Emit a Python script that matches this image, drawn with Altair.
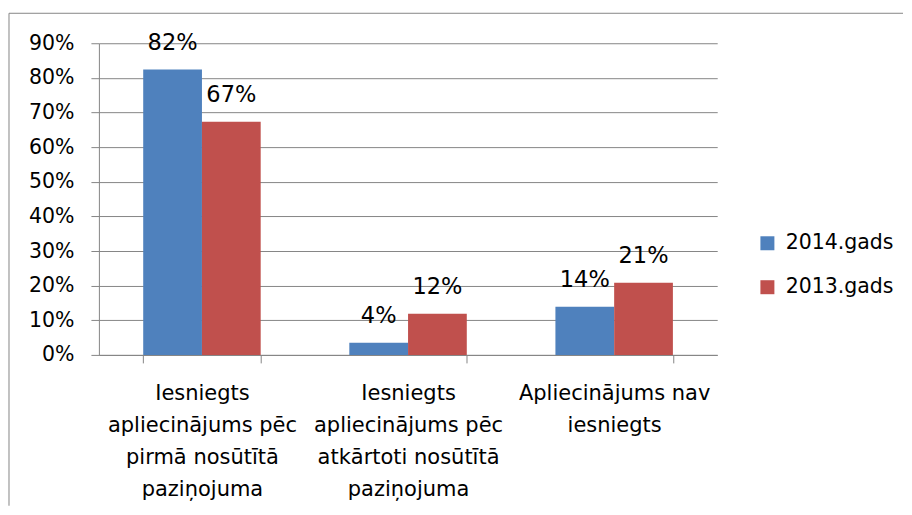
import json
import altair as alt
import pandas as pd

# ---- data ----
categories = [
    "Iesniegts apliecinājums pēc pirmā nosūtītā paziņojuma",
    "Iesniegts apliecinājums pēc atkārtoti nosūtītā paziņojuma",
    "Apliecinājums nav iesniegts",
]
category_lines = [
    ["Iesniegts", "apliecinājums pēc", "pirmā nosūtītā", "paziņojuma"],
    ["Iesniegts", "apliecinājums pēc", "atkārtoti nosūtītā", "paziņojuma"],
    ["Apliecinājums nav", "iesniegts"],
]
series = ["2014.gads", "2013.gads"]
values_2014 = [0.824, 0.035, 0.139]
values_2013 = [0.673, 0.119, 0.208]
y_ticks = [0, 0.1, 0.2, 0.3, 0.4, 0.5, 0.6, 0.7, 0.8, 0.9]
colors = ["#4F81BD", "#C0504D"]

rows = []
for s, vals in zip(series, [values_2014, values_2013]):
    for c, v in zip(categories, vals):
        rows.append({"category": c, "series": s, "value": v})
df = pd.DataFrame(rows)

label_map = json.dumps({c: l for c, l in zip(categories, category_lines)}, ensure_ascii=False)

FONT = "DejaVu Sans"
GRID = "#868686"

base = alt.Chart(df).encode(
    x=alt.X(
        "category:N",
        sort=categories,
        title=None,
        scale=alt.Scale(paddingInner=0.43, paddingOuter=0.215),
        axis=alt.Axis(
            labelAngle=0,
            labelExpr=f"{label_map}[datum.label]",
            labelLineHeight=32,
            labelFontSize=21,
            labelFont=FONT,
            labelColor="black",
            labelPadding=20,
            labelLimit=300,
            tickBand="extent",
            tickSize=8,
            tickColor=GRID,
            domainColor=GRID,
            grid=False,
        ),
    ),
    xOffset=alt.XOffset("series:N", sort=series, scale=alt.Scale(paddingInner=0, paddingOuter=0)),
    y=alt.Y(
        "value:Q",
        title=None,
        scale=alt.Scale(domain=[0, 0.9], nice=False),
        axis=alt.Axis(
            values=y_ticks,
            format=".0%",
            labelFontSize=20.5,
            labelFont=FONT,
            labelColor="black",
            labelPadding=17,
            tickSize=8,
            tickColor=GRID,
            domainColor=GRID,
            gridColor=GRID,
            grid=True,
        ),
    ),
)

bars = base.mark_bar().encode(
    color=alt.Color(
        "series:N",
        sort=series,
        scale=alt.Scale(domain=series, range=colors),
        legend=alt.Legend(
            title=None,
            orient="none",
            legendX=659,
            legendY=190,
            symbolType="square",
            symbolSize=196,
            symbolStrokeWidth=0,
            labelFontSize=20.5,
            labelFont=FONT,
            labelColor="black",
            labelOffset=8,
            rowPadding=23,
            padding=0,
            labelExpr="datum.label == '2014.gads' ? '\u00a0' + datum.label : datum.label",
        ),
    )
)

labels = base.mark_text(baseline="middle", dy=-27, fontSize=22.5, font=FONT, color="black").encode(
    text=alt.Text("value:Q", format=".0%")
)

frame_data = alt.Data(values=[{"f": 1}])
frame_left = alt.Chart(frame_data).mark_rule(color=GRID, strokeWidth=1).encode(
    x=alt.value(-90), y=alt.value(-30), y2=alt.value(463)
)
frame_top = alt.Chart(frame_data).mark_rule(color=GRID, strokeWidth=1).encode(
    x=alt.value(-90), x2=alt.value(805), y=alt.value(-30)
)

chart = (
    alt.layer(bars, labels, frame_left, frame_top)
    .properties(
        width=619,
        height=312,
        padding={"left": 0, "top": 4, "right": 0, "bottom": 0},
        background="white",
    )
    .configure_view(stroke=None)
)

chart.save("out.html", embed_options={"renderer": "svg", "actions": False})
